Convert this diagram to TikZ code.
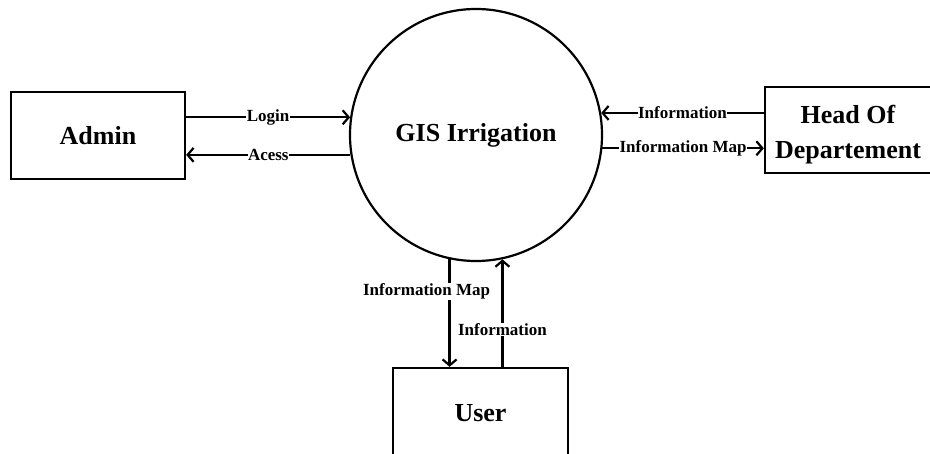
\documentclass[tikz,border=0pt]{standalone}
\usepackage{fontspec}
\setmainfont{Liberation Serif}
\usetikzlibrary{arrows.meta}
\begin{document}
\begin{tikzpicture}[x=1pt,y=-1pt,
  entity/.style={draw,line width=2.3pt,rectangle,font=\fontsize{26}{35}\selectfont\bfseries,align=center,inner sep=0pt},
  etext/.style={font=\fontsize{26}{35}\selectfont\bfseries,align=center,inner sep=0pt},
  proc/.style={draw,line width=2.2pt,circle,minimum size=252pt,inner sep=0pt,font=\fontsize{26}{30}\selectfont\bfseries},
  flow/.style={line width=2.2pt,-{Straight Barb[length=6pt,width=14pt,line width=2.2pt]}},
  lbl/.style={fill=white,inner sep=0.5pt,font=\fontsize{17}{19}\selectfont\bfseries}]
\clip (0,0) rectangle (930,454);
\useasboundingbox (0,0) rectangle (930,454);
\node[proc] (gis) at (476,135) {GIS Irrigation};
\node[entity,minimum width=174pt,minimum height=87pt] (admin) at (98,135.5) {Admin};
\node[entity,minimum width=170pt,minimum height=86pt] (head) at (850,130) {};
\node[etext] (headtxt) at (848,134.5) {Head Of\\Departement};
\node[entity,minimum width=175pt,minimum height=90pt] (user) at (480.5,413) {User};
\draw[flow] (admin.east |- gis.172.7) -- node[lbl]{Login} (gis.172.7);
\draw[flow] (gis.189.1) -- node[lbl]{Acess} (admin.east |- gis.189.1);
\draw[flow] (head.west |- gis.10) -- node[lbl]{Information} (gis.10);
\draw[flow] (gis.-6.4) -- node[lbl]{Information Map} (head.west |- gis.-6.4);
\draw[flow] (gis.258.1) -- node[lbl,pos=0.3,xshift=-23pt]{Information Map} (gis.258.1 |- user.north);
\draw[flow] (gis.282.8 |- user.north) -- node[lbl,pos=0.35]{Information} (gis.282.8);
\end{tikzpicture}
\end{document}
